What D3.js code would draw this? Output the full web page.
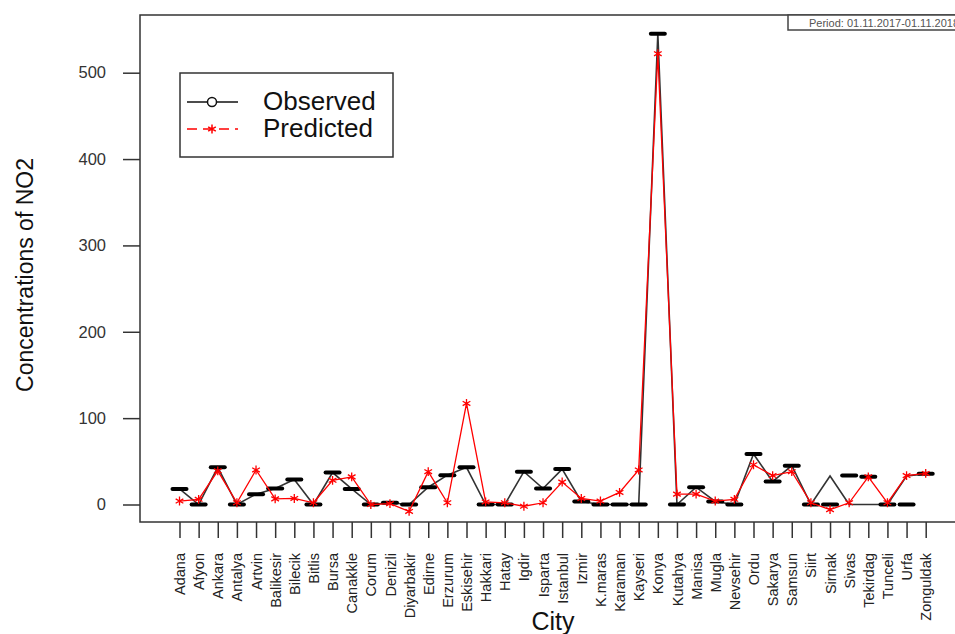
<!DOCTYPE html>
<html>
<head>
<meta charset="utf-8">
<script src="https://cdn.jsdelivr.net/npm/d3@7"></script>
<style>
  body { margin: 0; background: #fff; }
  text { font-family: "Liberation Sans", Arial, Helvetica, sans-serif; }
</style>
</head>
<body>
<script>
// City names along the x axis
var cities = ["Adana", "Afyon", "Ankara", "Antalya", "Artvin", "Balikesir", "Bilecik", "Bitlis", "Bursa", "Canakkle",
  "Corum", "Denizli", "Diyarbakir", "Edirne", "Erzurum", "Eskisehir", "Hakkari", "Hatay", "Igdir", "Isparta",
  "Istanbul", "Izmir", "K.maras", "Karaman", "Kayseri", "Konya", "Kutahya", "Manisa", "Mugla", "Nevsehir",
  "Ordu", "Sakarya", "Samsun", "Siirt", "Sirnak", "Sivas", "Tekirdag", "Tunceli", "Urfa", "Zonguldak"];

// Observed values (the black dash markers)
var observed = [18, 0, 43, 0, 12, 18.5, 29, 0, 37, 18,
  0, 2, 0, 20, 34, 43, 0, 0, 38, 18.5,
  41, 3.5, 0, 0, 0, 545, 0, 20, 3.5, 0,
  58.5, 26.5, 45, 0, 0, 33.5, 32, 0, 0, 35.5];

// Observed line as drawn in the original (differs from markers at the end)
var observedLine = [18, 0, 43, 0, 12, 18.5, 29, 0, 37, 18,
  0, 2, 0, 20, 34, 43, 0, 0, 38, 18.5,
  41, 3.5, 0, 0, 0, 545, 0, 20, 3.5, 0,
  58.5, 26.5, 45, 0, 33, 0, 0, 0, 33, 35.5];

// Predicted values (red stars)
var predicted = [4, 6, 39, 2, 40, 6.5, 7, 2, 28, 32,
  0, 1, -8, 38, 2, 117, 3, 2, -2, 2,
  26, 7, 4, 14, 40, 522, 12, 12, 4, 6,
  46, 33.5, 38, 2, -6, 2, 32, 2, 33.5, 36];

var yTicks = [0, 100, 200, 300, 400, 500];

var width = 955, height = 634;
var box = {left: 140, top: 15, right: 975, bottom: 522};

var svg = d3.select("body").append("svg")
            .attr("width", width)
            .attr("height", height);

svg.append("rect").attr("width", width).attr("height", height).attr("fill", "#fff");

var x = d3.scaleLinear().domain([0, cities.length - 1]).range([179.5, 925.7]);
var y = d3.scaleLinear().domain([0, 500]).range([504.5, 72.7]);

// Plot box
svg.append("rect")
   .attr("x", box.left)
   .attr("y", box.top)
   .attr("width", box.right - box.left)
   .attr("height", box.bottom - box.top)
   .attr("fill", "none")
   .attr("stroke", "#333")
   .attr("stroke-width", 1.5);

// Y axis
var yAxis = d3.axisLeft(y).tickValues(yTicks).tickSize(17).tickPadding(17);
var gy = svg.append("g").attr("transform", "translate(" + box.left + ",0)").call(yAxis);
gy.select(".domain").remove();
gy.selectAll(".tick line").attr("stroke", "#333").attr("stroke-width", 1.5);
gy.selectAll(".tick text")
  .attr("fill", "#333")
  .style("font-size", "16.5px")
  .style("font-family", "'Liberation Sans', Arial, sans-serif");

// X axis
var xAxis = d3.axisBottom(x).tickValues(d3.range(cities.length)).tickSize(16)
              .tickFormat(function(d){ return cities[d]; });
var gx = svg.append("g").attr("transform", "translate(0," + box.bottom + ")").call(xAxis);
gx.select(".domain").remove();
gx.selectAll(".tick line").attr("stroke", "#333").attr("stroke-width", 1.5);
gx.selectAll(".tick text")
  .attr("fill", "#222")
  .attr("text-anchor", "end")
  .attr("transform", "rotate(-90)")
  .attr("x", -31)
  .attr("y", 0)
  .attr("dy", "0.35em")
  .style("font-size", "14.5px")
  .style("font-family", "'Liberation Sans', Arial, sans-serif");

// Axis titles
svg.append("text")
   .attr("transform", "translate(33,275) rotate(-90)")
   .attr("text-anchor", "middle")
   .attr("fill", "#111")
   .style("font-size", "23px")
   .text("Concentrations of NO2");

svg.append("text")
   .attr("x", 553)
   .attr("y", 630)
   .attr("text-anchor", "middle")
   .attr("fill", "#111")
   .style("font-size", "25px")
   .text("City");

// Observed line and dash markers
var lineObs = d3.line().x(function(d, i){ return x(i); }).y(function(d){ return y(d); });
svg.append("path")
   .datum(observedLine)
   .attr("d", lineObs)
   .attr("fill", "none")
   .attr("stroke", "#333")
   .attr("stroke-width", 1.6);

svg.selectAll(".obsDash")
   .data(observed)
   .enter().append("line")
   .attr("class", "obsDash")
   .attr("x1", function(d, i){ return x(i) - 7; })
   .attr("x2", function(d, i){ return x(i) + 7; })
   .attr("y1", function(d){ return y(d); })
   .attr("y2", function(d){ return y(d); })
   .attr("stroke", "#000")
   .attr("stroke-width", 4)
   .attr("stroke-linecap", "round");

// Predicted line and star markers
svg.append("path")
   .datum(predicted)
   .attr("d", lineObs)
   .attr("fill", "none")
   .attr("stroke", "#ff0000")
   .attr("stroke-width", 1.3);

var star = d3.symbol().type(d3.symbolAsterisk).size(55);
svg.selectAll(".predStar")
   .data(predicted)
   .enter().append("path")
   .attr("class", "predStar")
   .attr("d", star)
   .attr("transform", function(d, i){ return "translate(" + x(i) + "," + y(d) + ")"; })
   .attr("fill", "none")
   .attr("stroke", "#ff0000")
   .attr("stroke-width", 1.3);

// Legend
var legend = svg.append("g").attr("class", "legend");
legend.append("rect")
      .attr("x", 180).attr("y", 73).attr("width", 213).attr("height", 84)
      .attr("fill", "#fff").attr("stroke", "#333").attr("stroke-width", 1.5);
legend.append("line")
      .attr("x1", 187).attr("x2", 238).attr("y1", 102).attr("y2", 102)
      .attr("stroke", "#111").attr("stroke-width", 1.5);
legend.append("circle")
      .attr("cx", 212).attr("cy", 102).attr("r", 4.5)
      .attr("fill", "#fff").attr("stroke", "#111").attr("stroke-width", 1.5);
legend.append("line")
      .attr("x1", 187).attr("x2", 238).attr("y1", 129).attr("y2", 129)
      .attr("stroke", "#ff0000").attr("stroke-width", 1.5)
      .attr("stroke-dasharray", "10,6");
legend.append("path")
      .attr("d", star)
      .attr("transform", "translate(212,129)")
      .attr("fill", "none").attr("stroke", "#ff0000").attr("stroke-width", 1.5);
legend.append("text")
      .attr("x", 263).attr("y", 110)
      .attr("fill", "#111")
      .style("font-size", "26px")
      .text("Observed");
legend.append("text")
      .attr("x", 263).attr("y", 137)
      .attr("fill", "#111")
      .style("font-size", "26px")
      .text("Predicted");

// Period label (runs past the right edge as in the original)
svg.append("rect")
   .attr("x", 788).attr("y", 15).attr("width", 200).attr("height", 15)
   .attr("fill", "#fff").attr("stroke", "#444").attr("stroke-width", 1.5);
svg.append("text")
   .attr("x", 809).attr("y", 26.5)
   .attr("fill", "#555")
   .style("font-size", "11px")
   .text("Period: 01.11.2017-01.11.2018");
</script>
</body>
</html>
